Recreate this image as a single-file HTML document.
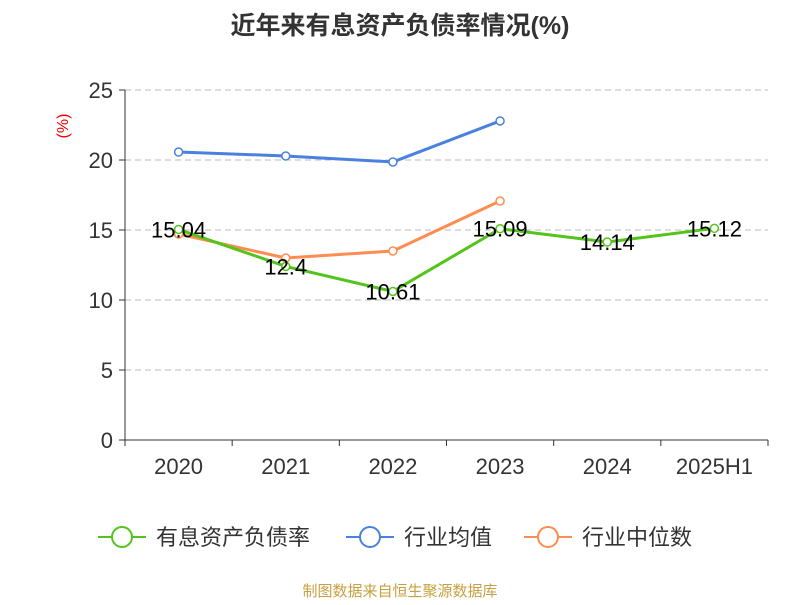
<!DOCTYPE html>
<html><head><meta charset="utf-8"><style>
body{margin:0;background:#fff;font-family:"Liberation Sans","Noto Sans CJK SC",sans-serif;}
</style></head><body>
<svg width="800" height="600" id="c" font-family="Liberation Sans, Noto Sans CJK SC, sans-serif">
<text x="400" y="34" text-anchor="middle" font-size="25" font-weight="bold" fill="#333">近年来有息资产负债率情况(%)</text>
<text x="68" y="126" text-anchor="middle" font-size="16" fill="#e00" transform="rotate(-90 68 126)">(%)</text>
<g id="grid"></g><g id="axes"></g><g id="series"></g>
<g>
<g><line x1="98" y1="537" x2="146" y2="537" stroke="#52c41a" stroke-width="2"/><circle cx="122" cy="537" r="10" fill="#fff" stroke="#52c41a" stroke-width="2"/><text x="156" y="545" font-size="22" fill="#333">有息资产负债率</text></g>
<g><line x1="346" y1="537" x2="394" y2="537" stroke="#4a80e0" stroke-width="2"/><circle cx="370" cy="537" r="10" fill="#fff" stroke="#4a80e0" stroke-width="2"/><text x="404" y="545" font-size="22" fill="#333">行业均值</text></g>
<g><line x1="524" y1="537" x2="572" y2="537" stroke="#ff8c50" stroke-width="2"/><circle cx="548" cy="537" r="10" fill="#fff" stroke="#ff8c50" stroke-width="2"/><text x="582" y="545" font-size="22" fill="#333">行业中位数</text></g>
</g>
<text x="400" y="596" text-anchor="middle" font-size="15" fill="#c8a040">制图数据来自恒生聚源数据库</text>
</svg>
<script>
const categories=["2020","2021","2022","2023","2024","2025H1"];
const debtRatio=[15.04,12.4,10.61,15.09,14.14,15.12];
const industryAvg=[20.57,20.29,19.86,22.79];
const industryMedian=[14.71,13.0,13.5,17.07];
const yTicks=[0,5,10,15,20,25];
const NS="http://www.w3.org/2000/svg";
const x0=125,x1=768,yB=440,yT=90;
const bw=(x1-x0)/categories.length;
const xs=i=>x0+bw*(i+0.5);
const ys=v=>yB-(v/25)*(yB-yT);
function mk(t,a,p){const e=document.createElementNS(NS,t);for(const k in a)e.setAttribute(k,a[k]);p.appendChild(e);return e;}
const grid=document.getElementById('grid'),axes=document.getElementById('axes'),ser=document.getElementById('series');
yTicks.forEach(v=>{
 if(v>0){const g=mk('line',{x1:x0,x2:x1,y1:ys(v),y2:ys(v),stroke:'#bbb','stroke-dasharray':'6,4'},grid);
 }
 mk('line',{x1:x0-6,x2:x0,y1:ys(v),y2:ys(v),stroke:'#333'},axes);
 const t=mk('text',{x:x0-12,y:ys(v)+8,'text-anchor':'end','font-size':22,fill:'#333'},axes);t.textContent=v;
 
});
mk('line',{x1:x0,x2:x0,y1:yT,y2:yB,stroke:'#333'},axes);
mk('line',{x1:x0,x2:x1,y1:yB,y2:yB,stroke:'#333'},axes);
for(let i=0;i<=categories.length;i++)mk('line',{x1:x0+bw*i,x2:x0+bw*i,y1:yB,y2:yB+6,stroke:'#333'},axes);
categories.forEach((c,i)=>{const t=mk('text',{x:xs(i),y:474,'text-anchor':'middle','font-size':22,fill:'#333'},axes);t.textContent=c;
 });
function line(vals,col,name){
 const g=mk('g',{},ser);
 mk('polyline',{points:vals.map((v,i)=>xs(i)+','+ys(v)).join(' '),fill:'none',stroke:col,'stroke-width':3},g);
 vals.forEach((v,i)=>{const c=mk('circle',{cx:xs(i),cy:ys(v),r:4,fill:'#fff',stroke:col,'stroke-width':1.5},g);
 });
}
line(industryAvg,'#4a80e0','industry-avg-line');
line(industryMedian,'#ff8c50','industry-median-line');
line(debtRatio,'#52c41a','debt-ratio-line');
debtRatio.forEach((v,i)=>{const t=mk('text',{x:xs(i),y:ys(v)+8,'text-anchor':'middle','font-size':22,fill:'#000'},ser);t.textContent=v;
 });
</script>
</body></html>
